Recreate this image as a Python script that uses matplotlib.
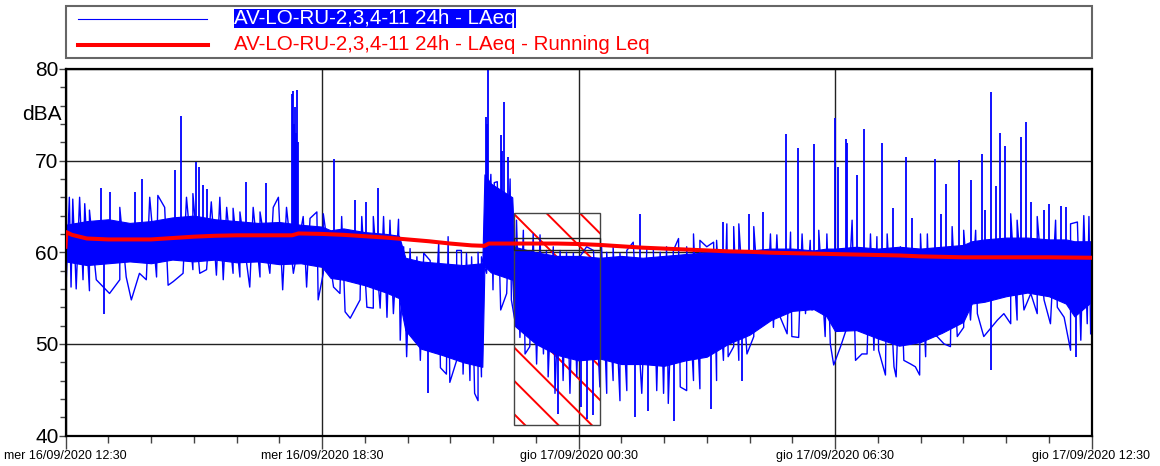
import numpy as np
import matplotlib
matplotlib.use('Agg')
import matplotlib.pyplot as plt
from matplotlib.patches import Rectangle
from matplotlib.lines import Line2D
from matplotlib.ticker import MultipleLocator

plt.rcParams['font.family'] = ['Liberation Sans', 'DejaVu Sans']
plt.rcParams['hatch.linewidth'] = 1.4

# Hours since mer 16/09/2020 12:30
xtick_hours = [0, 6, 12, 18, 24]
xtick_labels = ['mer 16/09/2020 12:30', 'mer 16/09/2020 18:30',
                'gio 17/09/2020 00:30', 'gio 17/09/2020 06:30',
                'gio 17/09/2020 12:30']
ytick_values = [40, 50, 60, 70, 80]

# LAeq: dense core of the trace (hour, upper dB, lower dB)
core = [(0.0, 63.0, 59.0), (0.5, 63.4, 58.6), (1.0, 63.6, 58.8),
        (1.5, 63.2, 59.0), (2.0, 63.4, 58.8), (2.5, 63.8, 59.2),
        (3.0, 64.0, 59.0), (3.5, 63.6, 59.2), (4.0, 63.4, 58.9),
        (4.5, 63.2, 59.0), (5.0, 63.3, 58.7), (5.5, 63.0, 58.8),
        (6.0, 62.8, 58.4), (6.2, 62.4, 57.2), (6.5, 62.6, 57.0),
        (7.0, 62.2, 56.4), (7.5, 62.0, 55.6), (7.8, 61.8, 55.0),
        (7.95, 59.4, 51.5), (8.3, 59.0, 49.5), (8.8, 58.8, 48.8),
        (9.3, 58.6, 48.0), (9.75, 58.8, 47.5), (9.8, 68.5, 58.5),
        (9.95, 67.5, 57.8), (10.45, 66.0, 57.0), (10.5, 60.6, 52.0),
        (11.0, 60.0, 50.0), (11.5, 59.6, 48.8), (12.0, 59.6, 48.2),
        (12.5, 59.4, 48.4), (13.0, 59.6, 47.8), (13.5, 59.4, 47.8),
        (14.0, 59.6, 47.6), (14.5, 59.8, 48.2), (15.0, 60.0, 48.6),
        (15.5, 60.2, 50.0), (16.0, 60.2, 51.0), (16.5, 60.4, 52.6),
        (17.0, 60.4, 53.6), (17.5, 60.2, 53.8), (17.8, 60.4, 53.0),
        (18.0, 60.4, 51.4), (18.5, 60.6, 51.5), (19.0, 60.4, 50.6),
        (19.5, 60.6, 49.8), (20.0, 60.4, 50.2), (20.5, 60.6, 51.2),
        (21.0, 60.8, 52.4), (21.2, 61.2, 54.4), (21.5, 61.4, 54.6),
        (22.0, 61.6, 55.2), (22.5, 61.6, 55.6), (23.0, 61.4, 55.2),
        (23.4, 61.4, 54.4), (23.6, 61.2, 53.0), (24.0, 61.2, 54.6)]

# LAeq: local maxima of the trace (hour, dB)
peaks = [(0.09, 66.0), (0.17, 65.8), (0.33, 66.0), (0.45, 65.3), (0.56, 64.6),
         (0.84, 67.0), (1.03, 66.6), (1.27, 64.9), (1.62, 66.6), (1.80, 68.0),
         (1.97, 66.0), (2.16, 66.2), (2.32, 64.9), (2.55, 69.0), (2.71, 74.9),
         (2.83, 66.0), (2.98, 66.4), (3.06, 69.8), (3.13, 69.3), (3.22, 67.3),
         (3.30, 66.9), (3.41, 65.5), (3.61, 66.0), (3.77, 64.9), (3.92, 64.8),
         (4.08, 64.4), (4.23, 67.7), (4.39, 64.9), (4.55, 64.4), (4.70, 67.6),
         (4.86, 64.9), (4.98, 66.0), (5.17, 64.9), (5.30, 77.3), (5.32, 77.6),
         (5.34, 74.0), (5.36, 72.5), (5.38, 75.9), (5.40, 73.0), (5.42, 77.7),
         (5.44, 72.0), (5.56, 63.9), (5.72, 63.7), (5.88, 64.4), (6.03, 64.2),
         (6.27, 70.2), (6.46, 63.9), (6.77, 65.7), (6.93, 63.9), (7.03, 65.5),
         (7.20, 63.9), (7.32, 67.0), (7.44, 63.9), (7.59, 63.5), (7.79, 63.6),
         (7.91, 60.6), (8.06, 60.4), (8.22, 59.5), (8.38, 59.9), (8.53, 59.1),
         (8.73, 61.1), (8.95, 61.7), (9.15, 60.2), (9.26, 60.2), (9.38, 59.9),
         (9.50, 59.5), (9.65, 60.0), (9.73, 59.5), (9.83, 74.8), (9.85, 74.0),
         (9.89, 80.0), (9.95, 68.5), (10.03, 67.6), (10.10, 67.7), (10.18, 72.8),
         (10.22, 71.0), (10.26, 76.4), (10.35, 70.4), (10.40, 68.0), (10.55, 63.5),
         (10.71, 62.4), (10.94, 62.0), (11.10, 61.9), (11.25, 60.2), (11.41, 60.6),
         (11.57, 60.2), (11.72, 60.0), (11.88, 59.9), (12.03, 59.5), (12.19, 60.6),
         (12.35, 60.2), (12.54, 60.6), (12.66, 60.0), (12.81, 60.6), (12.97, 59.9),
         (13.13, 60.2), (13.28, 61.1), (13.44, 64.2), (13.60, 60.6), (13.75, 60.4),
         (13.91, 60.0), (14.06, 60.6), (14.22, 60.2), (14.34, 61.5), (14.53, 60.6),
         (14.69, 62.0), (14.84, 61.3), (15.00, 60.6), (15.16, 61.1), (15.23, 61.3),
         (15.39, 63.3), (15.47, 63.1), (15.63, 62.8), (15.75, 63.1), (15.98, 64.2),
         (16.10, 62.8), (16.32, 64.4), (16.49, 62.0), (16.64, 61.9), (16.85, 72.9),
         (16.96, 62.2), (17.13, 71.4), (17.23, 62.0), (17.42, 61.3), (17.52, 71.8),
         (17.62, 62.4), (17.81, 62.0), (18.01, 74.6), (18.06, 69.3), (18.26, 72.4),
         (18.28, 71.9), (18.40, 63.5), (18.52, 68.4), (18.67, 73.4), (18.83, 62.0),
         (18.98, 61.7), (19.09, 71.9), (19.22, 62.0), (19.36, 64.8), (19.53, 60.6),
         (19.66, 70.4), (19.80, 63.7), (20.00, 62.0), (20.16, 62.0), (20.33, 70.2),
         (20.47, 64.2), (20.59, 67.5), (20.74, 62.8), (20.89, 70.1), (21.01, 62.4),
         (21.17, 67.9), (21.29, 62.4), (21.43, 70.7), (21.52, 64.6), (21.64, 77.5),
         (21.76, 67.2), (21.85, 73.0), (21.98, 71.6), (22.11, 64.2), (22.26, 63.5),
         (22.36, 72.6), (22.47, 74.2), (22.58, 65.5), (22.73, 63.9), (22.89, 64.6),
         (23.00, 65.3), (23.16, 63.5), (23.28, 65.1), (23.40, 64.9), (23.51, 63.1),
         (23.67, 63.3), (23.82, 64.0), (23.94, 63.9)]

# LAeq: local minima of the trace (hour, dB)
dips = [(0.02, 57.3), (0.13, 56.2), (0.25, 56.0), (0.41, 57.0), (0.56, 55.8),
        (0.72, 57.0), (0.91, 53.3), (1.03, 55.5), (1.27, 57.0), (1.42, 57.3),
        (1.54, 54.8), (1.73, 57.7), (1.89, 57.0), (2.13, 57.3), (2.40, 56.4),
        (2.52, 56.8), (2.75, 57.7), (2.98, 58.1), (3.14, 57.7), (3.30, 58.1),
        (3.53, 57.5), (3.69, 57.0), (3.92, 57.7), (4.08, 57.3), (4.31, 56.2),
        (4.55, 57.3), (4.78, 57.7), (5.08, 55.9), (5.33, 57.7), (5.64, 56.2),
        (5.91, 54.8), (6.03, 57.7), (6.27, 56.2), (6.42, 55.5), (6.54, 53.5),
        (6.66, 52.8), (6.89, 54.8), (7.05, 54.0), (7.20, 53.9), (7.36, 53.9),
        (7.52, 52.9), (7.67, 53.3), (7.83, 50.4), (7.98, 48.6), (8.14, 50.8),
        (8.30, 48.2), (8.49, 44.6), (8.61, 49.3), (8.77, 47.4), (8.91, 46.7),
        (8.99, 45.8), (9.15, 48.2), (9.30, 46.7), (9.46, 46.0), (9.57, 44.6),
        (9.65, 43.8), (9.73, 46.4), (9.85, 57.7), (10.00, 55.9), (10.18, 53.7),
        (10.32, 55.5), (10.43, 54.8), (10.51, 52.6), (10.63, 50.7), (10.75, 48.9),
        (10.86, 49.7), (11.02, 47.8), (11.18, 48.9), (11.29, 46.4), (11.45, 44.6),
        (11.53, 42.4), (11.64, 46.0), (11.80, 44.6), (11.96, 46.4), (12.07, 43.1),
        (12.19, 41.8), (12.35, 42.2), (12.50, 45.3), (12.66, 44.6), (12.81, 46.0),
        (12.97, 43.8), (13.13, 44.9), (13.32, 42.0), (13.48, 44.6), (13.63, 42.7),
        (13.83, 44.9), (13.99, 44.6), (14.10, 43.5), (14.24, 41.6), (14.38, 45.3),
        (14.53, 44.9), (14.69, 46.0), (14.84, 45.1), (15.09, 42.9), (15.23, 46.0),
        (15.39, 48.2), (15.50, 48.6), (15.63, 49.7), (15.75, 48.2), (15.82, 46.0),
        (15.94, 48.9), (16.10, 50.8), (16.25, 52.6), (16.41, 53.3), (16.56, 51.8),
        (16.72, 52.9), (16.88, 51.1), (16.99, 50.8), (17.15, 50.7), (17.31, 53.3),
        (17.46, 53.7), (17.62, 54.0), (17.77, 50.8), (17.89, 50.0), (17.97, 47.7),
        (18.13, 49.7), (18.28, 51.8), (18.48, 48.2), (18.63, 48.9), (18.75, 48.9),
        (18.91, 49.3), (19.02, 49.3), (19.18, 46.6), (19.38, 47.5), (19.43, 46.4),
        (19.61, 48.2), (19.77, 47.8), (19.88, 47.5), (19.98, 46.6), (20.12, 48.6),
        (20.23, 51.1), (20.39, 50.8), (20.55, 50.0), (20.70, 49.7), (20.86, 50.8),
        (21.01, 51.8), (21.17, 52.6), (21.33, 53.3), (21.48, 50.8), (21.64, 47.1),
        (21.80, 52.6), (21.95, 53.3), (22.11, 52.2), (22.26, 52.6), (22.42, 53.7),
        (22.58, 55.5), (22.73, 53.3), (22.89, 54.8), (23.04, 52.2), (23.20, 54.0),
        (23.36, 52.9), (23.51, 49.3), (23.63, 48.6), (23.75, 50.4), (23.90, 52.2),
        (23.98, 51.1)]

# Running Leq
leq_t = [0.0, 0.02, 0.15, 0.5, 1.0, 1.5, 2.0, 2.5, 3.0, 3.5, 4.0, 4.5, 5.0, 5.3,
         5.45, 6.0, 6.5, 7.0, 7.5, 8.0, 8.5, 9.0, 9.5, 9.8, 9.9, 10.5, 11.0,
         11.5, 12.0, 12.5, 13.0, 13.5, 14.0, 14.5, 15.0, 15.5, 16.0, 16.5, 17.0,
         17.5, 18.0, 18.5, 19.0, 19.5, 20.0, 20.5, 21.0, 22.0, 23.0, 24.0]
leq_v = [60.6, 62.2, 61.9, 61.5, 61.4, 61.4, 61.4, 61.55, 61.7, 61.8, 61.85,
         61.85, 61.85, 61.85, 62.05, 62.0, 61.9, 61.75, 61.6, 61.4, 61.2, 60.95,
         60.75, 60.7, 60.95, 60.95, 60.95, 60.95, 60.9, 60.8, 60.65, 60.5, 60.4,
         60.3, 60.2, 60.1, 60.05, 59.95, 59.9, 59.85, 59.8, 59.75, 59.7, 59.65,
         59.55, 59.5, 59.45, 59.45, 59.45, 59.4]

# Marked interval (23:00 - 01:00)
box_t = [10.5, 12.5]
box_db = [41.1, 64.3]
band_db = [60.2, 61.6]

label_laeq = 'AV-LO-RU-2,3,4-11 24h - LAeq'
label_run = 'AV-LO-RU-2,3,4-11 24h - LAeq - Running Leq'

core_t, core_hi, core_lo = (np.array(c) for c in zip(*core))
peak_t, peak_v = (np.array(c) for c in zip(*peaks))
dip_t, dip_v = (np.array(c) for c in zip(*dips))

# tall isolated events are drawn as thin spikes, the rest as a jagged line
peak_top = np.interp(peak_t, core_t, core_hi)
dip_bot = np.interp(dip_t, core_t, core_lo)
tall_p = peak_v > peak_top + 3.0
tall_d = dip_v < dip_bot - 4.5
fringe = sorted(list(zip(peak_t[~tall_p], peak_v[~tall_p])) +
                list(zip(dip_t[~tall_d], dip_v[~tall_d])))
fringe_t, fringe_v = zip(*fringe)

W, H = 1160, 466
fig = plt.figure(figsize=(W / 100, H / 100), dpi=100)
ax = fig.add_axes([65.5 / W, 1 - 435.5 / H, 1026 / W, 366.5 / H])

ax.add_patch(Rectangle((box_t[0], box_db[0]), box_t[1] - box_t[0],
                       box_db[1] - box_db[0], facecolor='none',
                       edgecolor='#ff0000', hatch='\\', lw=0, zorder=1))

blue = '#0000ff'
ax.fill_between(core_t, core_lo, core_hi, color=blue, lw=0.8, zorder=2)
ax.plot(fringe_t, fringe_v, color=blue, lw=1.0, zorder=2)
ax.vlines(peak_t[tall_p], peak_top[tall_p] - 1, peak_v[tall_p], color=blue,
          lw=1.3, zorder=2)
ax.vlines(dip_t[tall_d], dip_v[tall_d], dip_bot[tall_d] + 1, color=blue,
          lw=1.3, zorder=2)

ax.add_patch(Rectangle((box_t[0], box_db[0]), box_t[1] - box_t[0],
                       box_db[1] - box_db[0], fill=False,
                       edgecolor='#444444', lw=1.0, zorder=3))
ax.add_patch(Rectangle((box_t[0], band_db[0]), box_t[1] - box_t[0],
                       band_db[1] - band_db[0], fill=False,
                       edgecolor='#222222', lw=1.0, zorder=3))

ax.plot(leq_t, leq_v, color='#ff0000', lw=2.9, zorder=4)

ax.set_xlim(0, 24)
ax.set_ylim(40, 80)
ax.set_xticks(xtick_hours)
ax.set_xticklabels(xtick_labels)
ax.xaxis.set_minor_locator(MultipleLocator(1))
ax.set_yticks(ytick_values)
ax.set_yticklabels([str(v) for v in ytick_values])
ax.yaxis.set_minor_locator(MultipleLocator(2))

ax.set_axisbelow(True)
ax.grid(True, which='major', color='#222222', lw=1.0)
for s in ax.spines.values():
    s.set_linewidth(1.6)
    s.set_color('black')

ax.tick_params(axis='y', which='major', direction='out', length=5, width=1,
               pad=0, labelsize=15, color='#444444')
ax.tick_params(axis='y', which='minor', direction='out', length=4.3, width=1,
               color='#444444')
ax.tick_params(axis='x', which='major', direction='out', length=9, width=1,
               pad=1.5, labelsize=9, color='#444444')
ax.tick_params(axis='x', which='minor', direction='out', length=4.7, width=1,
               color='#444444')

fig.text(62 / W, 1 - 114.5 / H, 'dBA', ha='right', va='center', fontsize=15)

# Legend box drawn by hand to match the original layout
fig.add_artist(Rectangle((65.5 / W, 1 - 58.3 / H), (1092 - 65.5) / W, 52.6 / H,
                         transform=fig.transFigure, facecolor='white',
                         edgecolor='#666666', lw=1.5))
fig.add_artist(Line2D([78 / W, 207 / W], [1 - 19 / H, 1 - 19 / H],
                      transform=fig.transFigure, color=blue, lw=0.8))
fig.add_artist(Line2D([78 / W, 208 / W], [1 - 45 / H, 1 - 45 / H],
                      transform=fig.transFigure, color='#ff0000', lw=2.9))
fig.text(234 / W, 1 - 18.5 / H, label_laeq, ha='left', va='center',
         fontsize=14.8, color='white',
         bbox=dict(boxstyle='square,pad=0.02', facecolor=blue, edgecolor='none'))
fig.text(234 / W, 1 - 45 / H, label_run, ha='left', va='center',
         fontsize=14.8, color='#ff0000')

fig.savefig('out.png', dpi=100)
